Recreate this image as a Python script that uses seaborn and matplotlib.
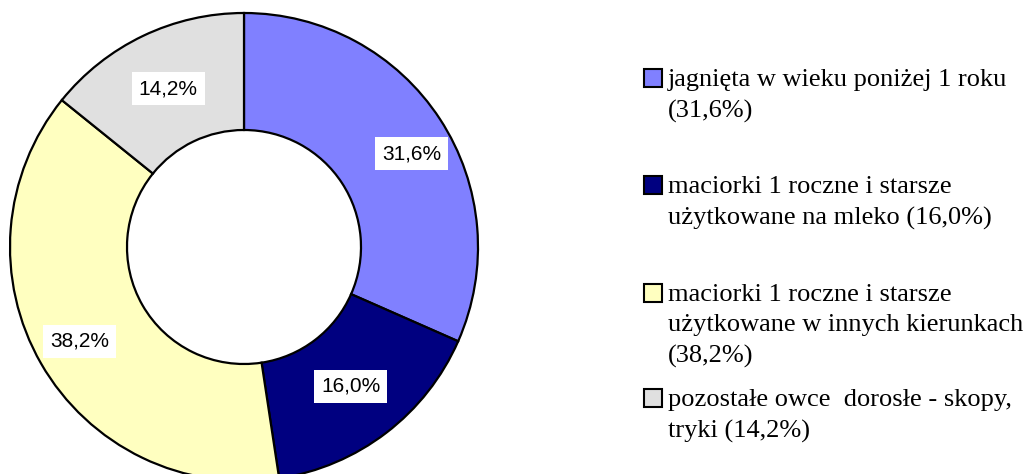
import numpy as np
import matplotlib.pyplot as plt
import seaborn as sns
from matplotlib.patches import Rectangle

sns.set_theme(style="white")
plt.rcParams['font.family'] = ['Liberation Sans', 'DejaVu Sans']
plt.rcParams['text.color'] = 'black'

# data
shares = [31.6, 16.0, 38.2, 14.2]
colors = ["#8080FF", "#000080", "#FFFFC0", "#E0E0E0"]
legend_labels = [
    "jagnięta w wieku poniżej 1 roku\n(31,6%)",
    "maciorki 1 roczne i starsze\nużytkowane na mleko (16,0%)",
    "maciorki 1 roczne i starsze\nużytkowane w innych kierunkach\n(38,2%)",
    "pozostałe owce  dorosłe - skopy,\ntryki (14,2%)",
]
# label placement: (angle offset from wedge middle in degrees, radius)
label_place = [(-4, 0.82), (0, 0.75), (0, 0.81), (0, 0.75)]

W, H = 1025, 474
fig = plt.figure(figsize=(W / 100, H / 100), dpi=100)
# pie box in pixels: left 10, top 13, size 468
ax = fig.add_axes([10 / W, (H - 13 - 468) / H, 468 / W, 468 / H])

wedges, _ = ax.pie(shares, colors=colors, startangle=90, counterclock=False,
                   wedgeprops=dict(width=0.5, edgecolor="black", linewidth=1.6))
ax.set_xlim(-1, 1)
ax.set_ylim(-1, 1)
ax.set_aspect("equal")

for w, val, (off, r) in zip(wedges, shares, label_place):
    mid = np.deg2rad((w.theta1 + w.theta2) / 2 + off)
    ax.text(r * np.cos(mid), r * np.sin(mid), f"{val:.1f}%".replace(".", ","),
            ha="center", va="center", fontsize=15, color="black",
            bbox=dict(facecolor="white", edgecolor="none", pad=5))

# legend drawn by hand to keep the uneven spacing of the original
legend_line1 = [80, 187, 295, 400]  # pixel y of first text line
for lab, c, y in zip(legend_labels, colors, legend_line1):
    fig.add_artist(Rectangle((644 / W, (H - y - 7) / H), 18 / W, 18 / H,
                             transform=fig.transFigure, facecolor=c,
                             edgecolor="black", linewidth=1.5))
    fig.text(668 / W, (H - y + 11) / H, lab, ha="left", va="top", fontsize=19,
             color="black", family=["Liberation Serif", "DejaVu Serif"],
             linespacing=1.5)

fig.savefig("out.png", dpi=100)
